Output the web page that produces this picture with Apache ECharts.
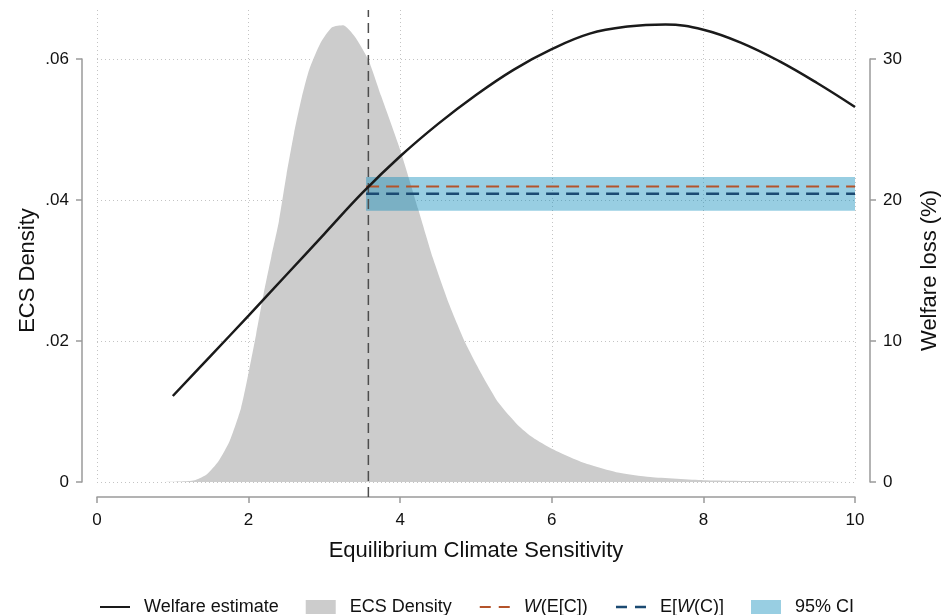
<!DOCTYPE html>
<html>
<head>
<meta charset="utf-8">
<script src="https://cdn.jsdelivr.net/npm/echarts@6/dist/echarts.min.js"></script>
<style>
  html, body { margin: 0; padding: 0; background: #fff; }
  #main { width: 946px; height: 615px; }
</style>
</head>
<body>
<div id="main"></div>
<script>
// ECS density (x, density)
var densX = [0, 0.8, 1.0, 1.15, 1.3, 1.45, 1.6, 1.75, 1.9, 2.0, 2.1, 2.2, 2.3, 2.4, 2.5, 2.6, 2.7, 2.8, 2.95, 3.1, 3.25, 3.4, 3.58, 3.75, 4.0, 4.24, 4.43, 4.65, 4.87, 5.1, 5.3, 5.55, 5.75, 6.0, 6.4, 6.85, 7.3, 8.0, 9.0, 10];
var densY = [0, 0, 0.00003, 0.0001, 0.0003, 0.0011, 0.0029, 0.0058, 0.0105, 0.0155, 0.021, 0.0268, 0.032, 0.037, 0.0436, 0.0495, 0.0545, 0.0585, 0.0623, 0.0645, 0.0648, 0.0632, 0.0599, 0.0547, 0.0471, 0.0386, 0.0318, 0.0251, 0.0195, 0.0148, 0.0112, 0.0081, 0.0063, 0.0047, 0.0028, 0.0014, 0.0007, 0.00025, 0.0001, 0.00003];

// Welfare estimate (x, welfare loss %)
var welfX = [1.0, 1.5, 2.0, 2.5, 3.0, 3.5, 4.0, 4.5, 5.0, 5.5, 6.0, 6.5, 7.0, 7.5, 8.0, 8.5, 9.0, 9.5, 10.0];
var welfY = [6.1, 8.95, 11.8, 14.7, 17.6, 20.5, 23.1, 25.4, 27.45, 29.25, 30.7, 31.8, 32.3, 32.45, 32.08, 31.15, 29.85, 28.3, 26.6];

// reference values
var ecsMean = 3.58;     // vertical dashed line
var bandStart = 3.55;   // start of horizontal lines / CI
var wOfMean = 20.96;    // W(E[C])
var meanOfW = 20.45;    // E[W(C)]
var ciLow = 19.24;
var ciHigh = 21.63;

var FONT = 'Liberation Sans, Arial, Helvetica, sans-serif';
var AXIS_GRAY = '#9a9a9a';
var GRID_GRAY = '#c4c4c4';

// pixel geometry
var gLeft = 97, gRight = 946 - 855, gBottom = 615 - 482;
var topData = 10, topAxis = 59;
var hData = 482 - topData, hAxis = 482 - topAxis;
var densMax = 0.06 * hData / hAxis;
var welfMax = 30 * hData / hAxis;

function zip(xs, ys) {
	var out = [];
	for (var i = 0; i < xs.length; i++) out.push([xs[i], ys[i]]);
	return out;
}

var chart = echarts.init(document.getElementById('main'));

// hide the symbol in the legend, keep the line
var noSymbol = { opacity : 0, borderWidth : 0 };

var option = {
	animation : false,
	backgroundColor : '#fff',
	textStyle : { fontFamily : FONT },
	grid : [
		// data area (extends above .06)
		{ left : gLeft, right : gRight, top : topData, bottom : gBottom, outerBoundsMode : 'none' },
		// axis area (0 .. .06 / 0 .. 30)
		{ left : gLeft, right : gRight, top : topAxis, bottom : gBottom, outerBoundsMode : 'none' },
		// vertical reference line, runs down to the x axis
		{ left : gLeft, right : gRight, top : topData, bottom : 615 - 497, outerBoundsMode : 'none' }
	],
	legend : {
		left : 94,
		top : 593,
		itemWidth : 30,
		itemHeight : 14,
		itemGap : 27,
		textStyle : {
			fontFamily : FONT,
			fontSize : 18,
			color : '#111',
			padding : [ 0, 0, 0, 9 ],
			rich : {
				i : { fontFamily : FONT, fontSize : 18, fontStyle : 'italic', color : '#111' },
				n : { fontFamily : FONT, fontSize : 18, color : '#111' }
			}
		},
		formatter : function(name) {
			if (name === 'W(E[C])') return '{i|W}{n|(E[C])}';
			if (name === 'E[W(C)]') return '{n|E[}{i|W}{n|(C)]}';
			return name;
		},
		data : [
			{ name : 'Welfare estimate', itemStyle : noSymbol },
			{ name : 'ECS Density', icon : 'rect', itemStyle : { color : '#cccccc' } },
			{ name : 'W(E[C])', itemStyle : noSymbol, lineStyle : { type : [ 11, 8 ], width : 2 } },
			{ name : 'E[W(C)]', itemStyle : noSymbol, lineStyle : { type : [ 11, 8 ], width : 2.5 } },
			{ name : '95% CI', icon : 'rect', itemStyle : { color : '#98cee2', opacity : 1 } }
		]
	},
	xAxis : [ {
		// main x axis
		gridIndex : 0,
		type : 'value',
		min : 0,
		max : 10,
		interval : 2,
		offset : 15,
		name : 'Equilibrium Climate Sensitivity',
		nameLocation : 'middle',
		nameGap : 43,
		nameMoveOverlap : false,
		nameTextStyle : { fontFamily : FONT, fontSize : 22, color : '#111' },
		axisLine : { onZero : false, lineStyle : { color : AXIS_GRAY, width : 1.5 } },
		axisTick : { length : 6, lineStyle : { color : AXIS_GRAY, width : 1.5 } },
		axisLabel : { margin : 15, fontFamily : FONT, fontSize : 17, color : '#111' },
		splitLine : { show : true, lineStyle : { color : GRID_GRAY, type : [1, 3], width : 1 } }
	}, {
		gridIndex : 1,
		type : 'value',
		min : 0,
		max : 10,
		show : false
	}, {
		gridIndex : 2,
		type : 'value',
		min : 0,
		max : 10,
		show : false
	} ],
	yAxis : [ {
		// density scale for data
		gridIndex : 0,
		type : 'value',
		min : 0,
		max : densMax,
		show : false,
		splitLine : { show : false }
	}, {
		// welfare scale for data
		gridIndex : 0,
		type : 'value',
		min : 0,
		max : welfMax,
		show : false,
		splitLine : { show : false }
	}, {
		// visible left axis
		gridIndex : 1,
		type : 'value',
		position : 'left',
		min : 0,
		max : 0.06,
		interval : 0.02,
		offset : 15,
		name : 'ECS Density',
		nameLocation : 'middle',
		nameGap : 43,
		nameMoveOverlap : false,
		nameTextStyle : { fontFamily : FONT, fontSize : 22, color : '#111' },
		axisLine : { show : true, onZero : false, lineStyle : { color : AXIS_GRAY, width : 1.5 } },
		axisTick : { show : true, length : 6, lineStyle : { color : AXIS_GRAY, width : 1.5 } },
		axisLabel : {
			margin : 13,
			fontFamily : FONT,
			fontSize : 17,
			color : '#111',
			formatter : function(v) {
				if (Math.abs(v) < 1e-9) return '0';
				return v.toFixed(2).replace(/^0/, '');
			}
		},
		splitLine : { show : true, lineStyle : { color : GRID_GRAY, type : [1, 3], width : 1 } }
	}, {
		// visible right axis
		gridIndex : 1,
		type : 'value',
		position : 'right',
		min : 0,
		max : 30,
		interval : 10,
		offset : 15,
		name : 'Welfare loss (%)',
		nameLocation : 'middle',
		nameGap : 49,
		nameRotate : 90,
		nameMoveOverlap : false,
		nameTextStyle : { fontFamily : FONT, fontSize : 22, color : '#111' },
		axisLine : { show : true, onZero : false, lineStyle : { color : AXIS_GRAY, width : 1.5 } },
		axisTick : { show : true, length : 6, lineStyle : { color : AXIS_GRAY, width : 1.5 } },
		axisLabel : { margin : 13, fontFamily : FONT, fontSize : 17, color : '#111' },
		splitLine : { show : false }
	}, {
		gridIndex : 2,
		type : 'value',
		min : 0,
		max : 1,
		show : false
	} ],
	series : [ {
		name : 'ECS Density',
		type : 'line',
		xAxisIndex : 0,
		yAxisIndex : 0,
		data : zip(densX, densY),
		symbol : 'none',
		smooth : 0.2,
		z : 1,
		itemStyle : { color : '#cccccc' },
		lineStyle : { width : 0, color : '#cccccc' },
		areaStyle : { color : '#cccccc', opacity : 1 }
	}, {
		// CI band drawn as a mark area
		name : '95% CI',
		type : 'line',
		xAxisIndex : 0,
		yAxisIndex : 1,
		data : [],
		symbol : 'none',
		z : 2,
		itemStyle : { color : '#98cee2' },
		lineStyle : { opacity : 0 },
		markArea : {
			silent : true,
			z : 3,
			itemStyle : { color : 'rgba(4,135,184,0.41)' },
			data : [ [ { xAxis : bandStart, yAxis : ciLow }, { xAxis : 10, yAxis : ciHigh } ] ]
		}
	}, {
		name : 'W(E[C])',
		type : 'line',
		xAxisIndex : 0,
		yAxisIndex : 1,
		data : [ [ bandStart, wOfMean ], [ 10, wOfMean ] ],
		symbol : 'none',
		z : 4,
		itemStyle : { color : '#b4532a' },
		lineStyle : { color : '#b4532a', width : 2, type : [ 13, 7 ] }
	}, {
		name : 'E[W(C)]',
		type : 'line',
		xAxisIndex : 0,
		yAxisIndex : 1,
		data : [ [ bandStart, meanOfW ], [ 10, meanOfW ] ],
		symbol : 'none',
		z : 4,
		itemStyle : { color : '#1b4a72' },
		lineStyle : { color : '#1b4a72', width : 2.5, type : [ 13, 7 ] }
	}, {
		name : 'Welfare estimate',
		type : 'line',
		xAxisIndex : 0,
		yAxisIndex : 1,
		data : zip(welfX, welfY),
		symbol : 'none',
		smooth : 0.4,
		z : 5,
		itemStyle : { color : '#1a1a1a' },
		lineStyle : { color : '#1a1a1a', width : 2.5 }
	}, {
		// vertical dashed line at mean ECS
		name : 'ecs-mean',
		type : 'line',
		xAxisIndex : 2,
		yAxisIndex : 4,
		data : [ [ ecsMean, 0 ], [ ecsMean, 1 ] ],
		symbol : 'none',
		z : 3,
		lineStyle : { color : '#4d4d4d', width : 1.5, type : [ 10, 6 ] }
	} ]
};

chart.setOption(option);
</script>
</body>
</html>
